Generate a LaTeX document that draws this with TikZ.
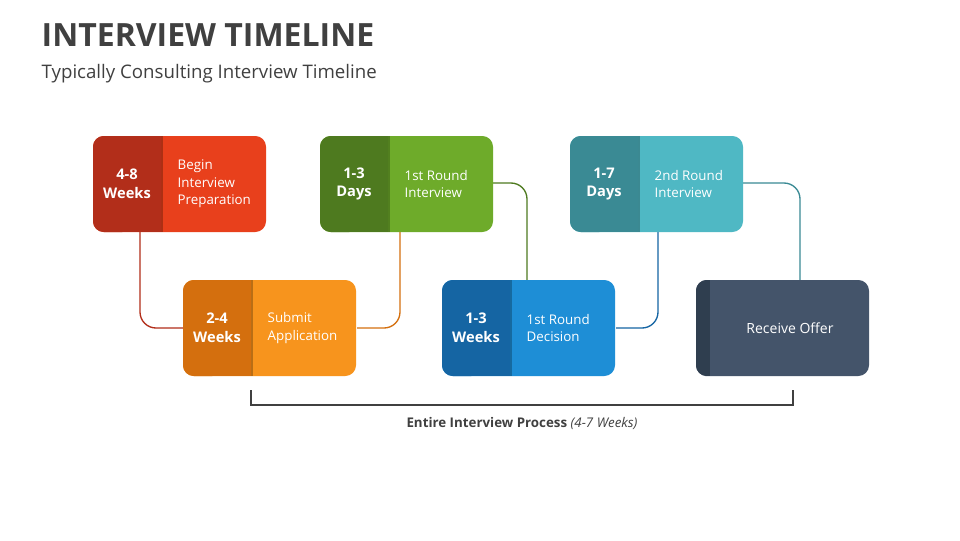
\documentclass[tikz,border=0pt]{standalone}
\usepackage{fontspec}
\setmainfont{Open Sans}
\usetikzlibrary{calc}
\definecolor{rD}{HTML}{B22E1A}\definecolor{rL}{HTML}{E8401C}
\definecolor{oD}{HTML}{D46F0E}\definecolor{oL}{HTML}{F7941D}
\definecolor{gD}{HTML}{4E7A1F}\definecolor{gL}{HTML}{6EAB2A}
\definecolor{bD}{HTML}{1565A3}\definecolor{bL}{HTML}{1E8ED6}
\definecolor{tD}{HTML}{3A8A94}\definecolor{tL}{HTML}{4FB8C4}
\definecolor{sD}{HTML}{2F3E4F}\definecolor{sL}{HTML}{44546A}
\definecolor{ink}{HTML}{404040}
\tikzset{
 lbl/.style={text=white,font=\bfseries\fontsize{11}{14}\selectfont,align=center},
 txt/.style={text=white,font=\fontsize{10}{13}\selectfont,align=left,anchor=west},
 conn/.style={line width=1pt,rounded corners=12pt}
}
\newcommand{\card}[7]{% name,x,y,dark,light,label,text
 \fill[#5,rounded corners=8pt] (#2,#3) rectangle ++(173,96);
 \fill[#4,rounded corners=8pt] (#2,#3) rectangle ++(40,96);
 \fill[#4] (#2+20,#3) rectangle ++(48,96);
 \fill[black,opacity=0.25] (#2+68,#3) rectangle ++(2,96);
 \coordinate (#1) at (#2,#3);
 \node[lbl] (#1l) at (#2+34,#3+48) {#6};
 \node[txt] (#1t) at (#2+80,#3+48) {#7};
}
\begin{document}
\begin{tikzpicture}[x=0.75pt,y=-0.75pt]
\useasboundingbox[fill=white] (0,0) rectangle (960,540);
\node[anchor=west,text=ink,font=\bfseries\fontsize{24}{28}\selectfont] (title) at (37,35) {INTERVIEW TIMELINE};
\node[anchor=west,text=ink,font=\fontsize{14}{17}\selectfont] (sub) at (37,74) {Typically Consulting Interview Timeline};
% connectors
\draw[conn,rD] (140,232) |- (183,328);
\draw[conn,oD] (357,328) -| (400,232);
\draw[conn,gD] (493,183) -| (527,280);
\draw[conn,bD] (616,328) -| (658,232);
\draw[conn,tD] (743,183) -| (800,280);
\card{a}{93}{136}{rD}{rL}{4-8\\Weeks}{Begin\\Interview\\Preparation}
\card{b}{183}{280}{oD}{oL}{2-4\\Weeks}{Submit\\Application}
\card{c}{320}{136}{gD}{gL}{1-3\\Days}{1st Round\\Interview}
\card{d}{442}{280}{bD}{bL}{1-3\\Weeks}{1st Round\\Decision}
\card{e}{570}{136}{tD}{tL}{1-7\\Days}{2nd Round\\Interview}
% offer
\fill[sL,rounded corners=8pt] (696,280) rectangle (869,376);
\fill[sD,rounded corners=8pt] (696,280) rectangle (716,376);
\fill[sD] (706,280) rectangle (710,376);
\fill[sL] (710,280) rectangle (720,376);
\node[text=white,font=\fontsize{10.5}{13}\selectfont] (f) at (790,328) {Receive Offer};
% bracket
\draw[ink,line width=1pt] (251,390) |- (793,405) -- (793,390);
\node[text=ink,font=\fontsize{10}{12}\selectfont] (proc) at (522,423) {\textbf{Entire Interview Process} \textit{(4-7 Weeks)}};
\end{tikzpicture}
\end{document}
